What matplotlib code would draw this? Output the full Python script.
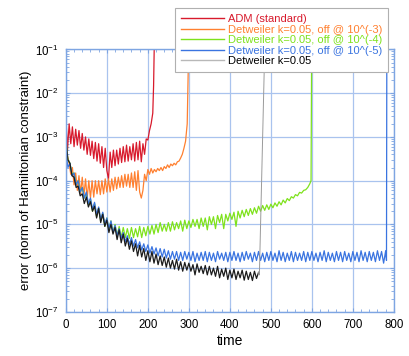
import numpy as np
import matplotlib
matplotlib.use("Agg")
import matplotlib.pyplot as plt

plt.rcParams['font.family'] = ['Liberation Sans', 'DejaVu Sans']
plt.rcParams['mathtext.fontset'] = 'custom'
plt.rcParams['mathtext.rm'] = 'Liberation Sans'
plt.rcParams['mathtext.it'] = 'Liberation Sans:italic'

# ADM (standard), units of 1e-4, sampled every 4 time units from t=0
adm_step = 4
adm_vals = [30, 5, 20, 7, 17, 6, 15, 6.5, 14, 5.5,
            12, 5, 10, 4, 9, 3.8, 8, 3.2, 7.5, 2.8,
            7, 2.5, 6, 2, 5.5, 1.7, 1.1, 4.5, 2, 5,
            2.2, 5, 2.4, 5.5, 2.6, 6, 2.7, 6.5, 2.8, 6,
            3, 7, 2.8, 7.5, 3, 8, 2.7, 7, 4, 9,
            8.5, 14, 20, 35]
adm_tail_t = [214, 216]
adm_tail_v = [150, 2000]

# Detweiler off @ 1e-3, units of 1e-5, every 4 time units
off3_step = 4
off3_vals = [100, 35, 25, 14, 20, 8, 15, 6, 13, 5,
             12, 4.5, 11, 4, 10, 4, 10, 4.2, 10, 5,
             10, 4.8, 10, 5, 11, 5.5, 11, 5.5, 11, 6,
             12, 6.5, 12, 7, 13, 7, 14, 7.5, 14, 7,
             15, 7, 16, 6, 17, 5.5, 4, 6, 14, 10,
             18, 14, 19, 15, 18, 16, 19, 17, 20, 17,
             21, 19, 23, 20, 24, 22, 25, 23, 27, 28,
             33, 40, 55, 80, 200]
off3_tail_t = [298, 300]
off3_tail_v = [2000, 20000]

# Detweiler off @ 1e-4, units of 1e-6, every 5 time units
off4_step = 5
off4_vals = [800, 300, 250, 140, 150, 80, 100, 55, 70, 40,
             50, 28, 38, 20, 30, 15, 24, 12, 18, 9,
             14, 7.5, 12, 6.5, 10, 5.5, 9, 5, 8.5, 5,
             8, 4.8, 8.5, 5, 8, 5.2, 9, 5, 8.5, 5.5,
             9, 6, 9.5, 6, 10, 6.5, 11, 7, 10, 7,
             11, 7, 11.5, 7.5, 11, 8, 12, 7, 12.5, 8,
             12, 8.5, 13, 9, 13, 8, 14, 9, 14, 7.5,
             15, 10, 15, 8, 16, 11, 17, 8, 17, 12,
             18, 13, 19, 9, 20, 14, 21, 15, 22, 16,
             23, 17, 24, 18, 26, 20, 27, 21, 28, 22,
             29, 24, 31, 26, 33, 28, 36, 31, 39, 35,
             43, 40, 48, 45, 54, 52, 60, 62, 70, 85]
off4_tail_t = [598, 600]
off4_tail_v = [100, 1e6]

# Detweiler off @ 1e-5, units of 1e-6, every 5 time units
off5_step = 5
off5_vals = [500, 200, 250, 130, 150, 80, 100, 55, 70, 40,
             55, 30, 40, 22, 32, 17, 25, 13, 19, 10,
             14, 8, 12, 6.5, 9.5, 5.5, 8, 4.8, 6.5, 4,
             5.5, 3.5, 5, 3.2, 4.5, 2.9, 4, 2.6, 3.6, 2.4,
             3.4, 2.2, 3.1, 2.1, 2.9, 1.9, 2.8, 1.8, 2.7, 1.7,
             2.5, 1.6, 2.4, 1.6, 2.4, 1.5, 2.3, 1.5, 2.4, 1.6,
             2.3, 1.5, 2.4, 1.4, 2.2, 1.5, 2.3, 1.5, 2.4, 1.4,
             2.3, 1.5, 2.2, 1.4, 2.4, 1.6, 2.2, 1.5, 2.3, 1.4,
             2.3, 1.5, 2.4, 1.5, 2.2, 1.4, 2.3, 1.5, 2.4, 1.6,
             2.2, 1.4, 2.3, 1.5, 2.4, 1.5, 2.2, 1.4, 2.3, 1.5,
             2.4, 1.5, 2.2, 1.4, 2.5, 1.5, 2.3, 1.4, 2.2, 1.5,
             2.4, 1.4, 2.3, 1.5, 2.2, 1.5, 2.4, 1.4, 2.3, 1.5,
             2.4, 1.5, 2.2, 1.4, 2.3, 1.5, 2.5, 1.4, 2.3, 1.5,
             2.2, 1.4, 2.4, 1.5, 2.3, 1.4, 2.4, 1.5, 2.2, 1.4,
             2.4, 1.5, 2.3, 1.4, 2.5, 1.5, 2.3, 1.4, 2.4, 1.5,
             2.3, 1.4, 2.5, 1.5, 2.4, 1.3, 2.5]
off5_tail_t = [782, 783]
off5_tail_v = [1.5, 1e6]

# Detweiler k=0.05 (never switched off), units of 1e-7, every 5 time units
det_step = 5
det_vals = [10000, 3000, 2500, 1300, 1200, 700, 750, 450, 500, 300,
            420, 250, 330, 200, 260, 140, 230, 110, 170, 90,
            125, 65, 100, 60, 85, 45, 75, 38, 60, 32,
            48, 27, 42, 24, 36, 19, 33, 18, 28, 15,
            25, 14, 24, 13, 21, 12, 19, 11.5, 18, 10.5,
            17, 10, 15, 9.5, 16, 9, 14, 8.5, 13.5, 9,
            13, 8.5, 12, 7, 12.5, 8, 11, 7.5, 11.5, 7,
            11, 7, 10, 6.5, 11, 6, 9.5, 6.5, 10, 5.5,
            9, 6, 9.5, 5.5, 8.5, 6, 9, 5.3, 8.5, 5.5,
            8, 5.2, 8.5, 5.8, 8]
det_tail_t = [472, 485]
det_tail_v = [7, 1e6]

series = [
    ("ADM (standard)", adm_step, adm_vals, adm_tail_t, adm_tail_v, 1e-4, "#d81a2c"),
    ("Detweiler k=0.05, off @ 10^(-3)", off3_step, off3_vals, off3_tail_t, off3_tail_v, 1e-5, "#ff8030"),
    ("Detweiler k=0.05, off @ 10^(-4)", off4_step, off4_vals, off4_tail_t, off4_tail_v, 1e-6, "#7ee21c"),
    ("Detweiler k=0.05, off @ 10^(-5)", off5_step, off5_vals, off5_tail_t, off5_tail_v, 1e-6, "#3a74e0"),
    ("Detweiler k=0.05", det_step, det_vals, det_tail_t, det_tail_v, 1e-7, "#1c1c1c"),
]

blue = "#7ea5e2"

fig = plt.figure(figsize=(4.09, 3.56), dpi=100)
ax = fig.add_axes([0.161, 0.124, 0.802, 0.737])

for label, step, vals, tt, tv, unit, color in series:
    t = np.arange(len(vals)) * step
    v = np.array(vals) * unit
    if label == "Detweiler k=0.05":
        # noisy part dark, final blow-up drawn as thin grey line
        ax.plot(t, v, color=color, lw=0.9, label=label)
        ax.plot(np.concatenate([t[-1:], tt]), np.concatenate([v[-1:], np.array(tv) * unit]),
                color="#9a9a9a", lw=0.7)
    else:
        ax.plot(np.concatenate([t, tt]), np.concatenate([v, np.array(tv) * unit]),
                color=color, lw=0.9, label=label)

ax.set_yscale("log")
ax.set_xlim(0, 800)
ax.set_ylim(1e-7, 1e-1)
ax.set_xticks(range(0, 801, 100))
ax.xaxis.set_minor_locator(matplotlib.ticker.MultipleLocator(20))
ax.grid(True, which="major", color="#a9c3ee", lw=0.9)
ax.set_axisbelow(True)
for s in ax.spines.values():
    s.set_color(blue)
    s.set_linewidth(1.0)
ax.tick_params(which="both", direction="in", top=True, right=True, color=blue,
               labelsize=8.3, pad=5)
ax.tick_params(which="major", length=3)
ax.tick_params(which="minor", length=2)
ax.set_xlabel("time", fontsize=10, labelpad=2.5)
ax.set_ylabel("error (norm of Hamiltonian constraint)", fontsize=9.5, labelpad=2)

leg = fig.legend(loc="upper right", bbox_to_anchor=(0.963, 0.993), fontsize=8,
                 handlelength=3.9, labelspacing=0.05, borderpad=0.55,
                 handletextpad=0.3, fancybox=False, framealpha=1)
leg.get_frame().set_edgecolor("#b0b0b0")
leg.get_frame().set_linewidth(0.8)
for line, text, s in zip(leg.get_lines(), leg.get_texts(), series):
    text.set_color(s[6])
    line.set_linewidth(1.0)
leg.get_lines()[4].set_color("#b8b8b8")
leg.get_texts()[4].set_color("black")

fig.savefig("out.png", dpi=100)
